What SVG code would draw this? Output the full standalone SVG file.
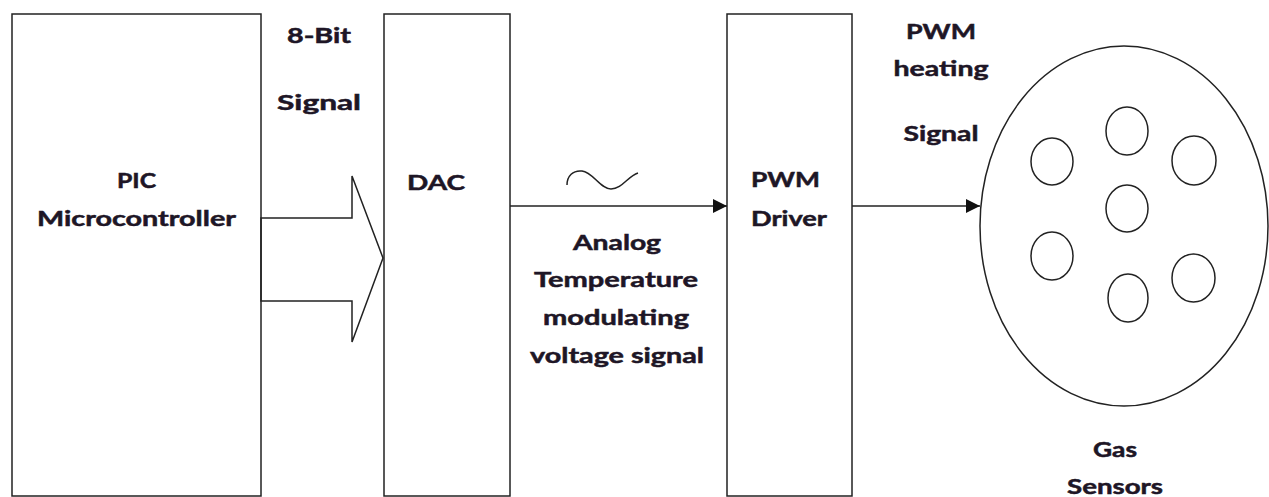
<svg xmlns="http://www.w3.org/2000/svg" width="1269" height="497" viewBox="0 0 1269 497">
<defs>
<style>
.box{fill:#fff;stroke:#222;stroke-width:1.5}
.ln{fill:none;stroke:#222;stroke-width:1.5}
.t{font-family:Lato,"Open Sans","Liberation Sans",sans-serif;font-weight:bold;font-size:21px;fill:#1e1626;stroke:#1e1626;stroke-width:0.5;text-anchor:middle}
.tl{font-family:Lato,"Open Sans","Liberation Sans",sans-serif;font-weight:bold;font-size:21px;fill:#1e1626;stroke:#1e1626;stroke-width:0.5}
</style>
<marker id="ah" viewBox="0 0 10 10" refX="10" refY="5" markerWidth="19" markerHeight="14" markerUnits="userSpaceOnUse" orient="auto">
<path d="M0,0 L10,5 L0,10 Z" fill="#111"/>
</marker>
</defs>
<rect width="1269" height="497" fill="#fff"/>
<g id="pic">
<rect class="box" x="12" y="14" width="249" height="482"/>
<text class="t" x="136.5" y="188" textLength="39" lengthAdjust="spacingAndGlyphs">PIC</text>
<text class="t" x="136.5" y="226" textLength="199" lengthAdjust="spacingAndGlyphs">Microcontroller</text>
</g>
<g id="dac">
<rect class="box" x="384" y="14" width="126" height="482"/>
<text class="t" x="436" y="190" textLength="58" lengthAdjust="spacingAndGlyphs">DAC</text>
</g>
<g id="pwm">
<rect class="box" x="727" y="14" width="125" height="482"/>
<text class="tl" x="751" y="187" textLength="69" lengthAdjust="spacingAndGlyphs">PWM</text>
<text class="tl" x="751" y="226" textLength="76" lengthAdjust="spacingAndGlyphs">Driver</text>
</g>
<g id="sensors">
<ellipse class="ln" cx="1124" cy="226" rx="144" ry="180"/>
<ellipse class="ln" cx="1052" cy="161.5" rx="21" ry="23.5"/>
<ellipse class="ln" cx="1127" cy="131" rx="21" ry="24"/>
<ellipse class="ln" cx="1194" cy="160.5" rx="22" ry="24.5"/>
<ellipse class="ln" cx="1127" cy="208.5" rx="21" ry="23.5"/>
<ellipse class="ln" cx="1052" cy="256" rx="21" ry="24"/>
<ellipse class="ln" cx="1128" cy="298" rx="20" ry="24"/>
<ellipse class="ln" cx="1193.5" cy="278" rx="21.5" ry="24"/>
<text class="t" x="1115" y="457" textLength="44" lengthAdjust="spacingAndGlyphs">Gas</text>
<text class="t" x="1115" y="494" textLength="96" lengthAdjust="spacingAndGlyphs">Sensors</text>
</g>
<g id="connectors">
<polygon class="ln" points="261,218 352,218 352,176 383,258 352,342 352,301 261,301"/>
<line class="ln" x1="510" y1="206" x2="727" y2="206" marker-end="url(#ah)"/>
<line class="ln" x1="852" y1="206" x2="980" y2="206" marker-end="url(#ah)"/>
<path class="ln" d="M567,185 C567,176 573,170 582,171 C593,172 600,189 611,189 C622,189 628,176 638,173"/>
</g>
<g id="labels">
<text class="t" x="319" y="43" textLength="64" lengthAdjust="spacingAndGlyphs">8-Bit</text>
<text class="t" x="319" y="110" textLength="84" lengthAdjust="spacingAndGlyphs">Signal</text>
<text class="t" x="617" y="250" textLength="88" lengthAdjust="spacingAndGlyphs">Analog</text>
<text class="t" x="616" y="287" textLength="164" lengthAdjust="spacingAndGlyphs">Temperature</text>
<text class="t" x="616" y="325" textLength="146" lengthAdjust="spacingAndGlyphs">modulating</text>
<text class="t" x="617" y="363" textLength="174" lengthAdjust="spacingAndGlyphs">voltage signal</text>
<text class="t" x="941" y="39" textLength="70" lengthAdjust="spacingAndGlyphs">PWM</text>
<text class="t" x="941" y="76" textLength="95" lengthAdjust="spacingAndGlyphs">heating</text>
<text class="t" x="941" y="141" textLength="75" lengthAdjust="spacingAndGlyphs">Signal</text>
</g>
</svg>
